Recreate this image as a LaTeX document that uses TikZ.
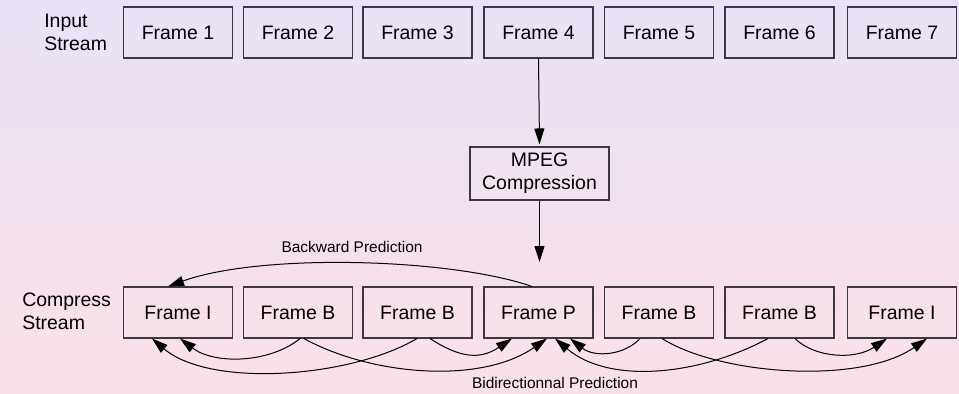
\documentclass[tikz,border=0pt]{standalone}
\usepackage{fontspec}
\setmainfont{Liberation Sans}
\usetikzlibrary{arrows.meta,calc}
\definecolor{bgtop}{RGB}{233,226,246}
\definecolor{bgbot}{RGB}{250,225,232}
\definecolor{boxline}{RGB}{60,56,66}
\begin{document}
\begin{tikzpicture}[x=0.75pt,y=-0.75pt,
  frame/.style={draw=boxline,line width=0.8pt,minimum width=81.75pt,minimum height=38.25pt,inner sep=0pt,font=\fontsize{14.6pt}{17.25pt}\selectfont},
  side/.style={anchor=west,inner sep=0pt,align=left,font=\fontsize{14.6pt}{17.25pt}\selectfont},
  small/.style={inner sep=0pt,font=\fontsize{11.6pt}{14pt}\selectfont},
  conn/.style={line width=0.75pt,-{Triangle[length=12pt,width=7.5pt]}}]
\shade[top color=bgtop,bottom color=bgbot] (0,0) rectangle (959,393);
\useasboundingbox (0,0) rectangle (959,393);
% labels
\node[side] (lin) at (44,32) {Input\\Stream};
\node[side] (lout) at (22,311) {Compress\\Stream};
% input frames
\node[frame] (f1) at (178,32.5) {Frame 1};
\node[frame] (f2) at (298,32.5) {Frame 2};
\node[frame] (f3) at (417.5,32.5) {Frame 3};
\node[frame] (f4) at (538.5,32.5) {Frame 4};
\node[frame] (f5) at (659,32.5) {Frame 5};
\node[frame] (f6) at (779.5,32.5) {Frame 6};
\node[frame] (f7) at (902,32.5) {Frame 7};
% compression
\node[frame,minimum width=104.25pt,minimum height=39.75pt,align=center] (mpeg) at (539.5,173.5) {MPEG\\Compression};
% output frames
\node[frame] (i1) at (178,312.5) {Frame I};
\node[frame] (b2) at (298,312.5) {Frame B};
\node[frame] (b3) at (417.5,312.5) {Frame B};
\node[frame] (p4) at (538.5,312.5) {Frame P};
\node[frame] (b5) at (659,312.5) {Frame B};
\node[frame] (b6) at (779.5,312.5) {Frame B};
\node[frame] (i7) at (902,312.5) {Frame I};
\coordinate (mend) at (539.5,262);
% vertical arrows
\draw[conn] (f4.south) -- ([yshift=1.5pt]mpeg.north);
\draw[conn] (mpeg.south) -- (mend);
% backward prediction
\draw[conn] ([xshift=-4.875pt]p4.north) .. controls (450,258) and (260,253) .. ([xshift=-7.5pt]i1.north);
\node[small] (lback) at (352,247) {Backward Prediction};
% bidirectional prediction
\draw[conn] ([xshift=1.5pt]b2.south) .. controls (270,363) and (215,365) .. ([xshift=1.5pt]i1.south);
\draw[conn] ([xshift=4.5pt]b2.south) .. controls (370,375) and (480,385) .. ([xshift=6.375pt]p4.south);
\draw[conn] ([xshift=-0.375pt]b3.south) .. controls (350,378) and (210,388) .. ([xshift=-19.5pt]i1.south);
\draw[conn] ([xshift=9.375pt]b3.south) .. controls (460,358) and (480,360) .. ([xshift=-19.875pt]p4.south);
\draw[conn] ([xshift=-14.25pt]b5.south) .. controls (625,355) and (595,358) .. ([xshift=23.625pt]p4.south);
\draw[conn] ([xshift=2.25pt]b5.south) .. controls (720,375) and (860,385) .. ([xshift=18.75pt]i7.south);
\draw[conn] ([xshift=-8.625pt]b6.south) .. controls (700,375) and (610,385) .. ([xshift=12.375pt]p4.south);
\draw[conn] ([xshift=11.625pt]b6.south) .. controls (815,358) and (855,360) .. ([xshift=-11.25pt]i7.south);
\node[small] (lbid) at (555,383) {Bidirectionnal Prediction};
\end{tikzpicture}
\end{document}
